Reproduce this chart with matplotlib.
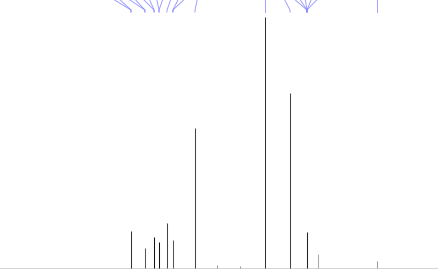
import matplotlib
matplotlib.use('Agg')
from matplotlib import pyplot as plt

# peak shifts (ppm) and heights
peak_ppm = [151.2, 143.9, 139.1, 136.5, 132.3, 129.2, 117.6, 106.0, 94.0, 80.8, 67.7, 58.8, 53.0, 22.0]
peak_height = [37, 20, 31, 26, 45, 28, 140, 3, 2, 251, 175, 36, 14, 7]
peak_color = ['#333333', '#555555', '#111111', '#111111', '#444444', '#555555', '#444444',
              '#999999', '#999999', '#333333', '#444444', '#222222', '#aaaaaa', '#999999']

# label leader lines: label position -> peak position
label_ppm = [163.3, 159.1, 154.9, 150.7, 146.5, 142.3, 138.1, 133.9, 129.7, 125.5, 121.3, 116.0,
             80.8, 71.6, 67.4, 63.7, 60.0, 55.8, 51.7, 22.0]
label_peak = [151.2, 151.2, 143.9, 143.9, 139.1, 139.1, 136.5, 136.5, 132.3, 129.2, 129.2, 117.6,
              80.8, 67.7, 58.8, 58.8, 58.8, 58.8, 58.8, 22.0]

fig = plt.figure(figsize=(4.38, 2.70), dpi=100)
ax = fig.add_axes([0, 0, 1, 1])
ax.set_xlim(220, -10)
ax.set_ylim(-2, 268)
ax.axis('off')

ax.plot([220, -10], [0, 0], color='#cccccc', lw=0.6)
ax.vlines(peak_ppm, 0, peak_height, colors=peak_color, lw=0.75)

for lp, pp in zip(label_ppm, label_peak):
    ax.plot([lp, lp, pp, pp], [290, 272, 258, 256], color='#8080ff', lw=0.65, alpha=0.8)

fig.savefig('out.png', dpi=100)
